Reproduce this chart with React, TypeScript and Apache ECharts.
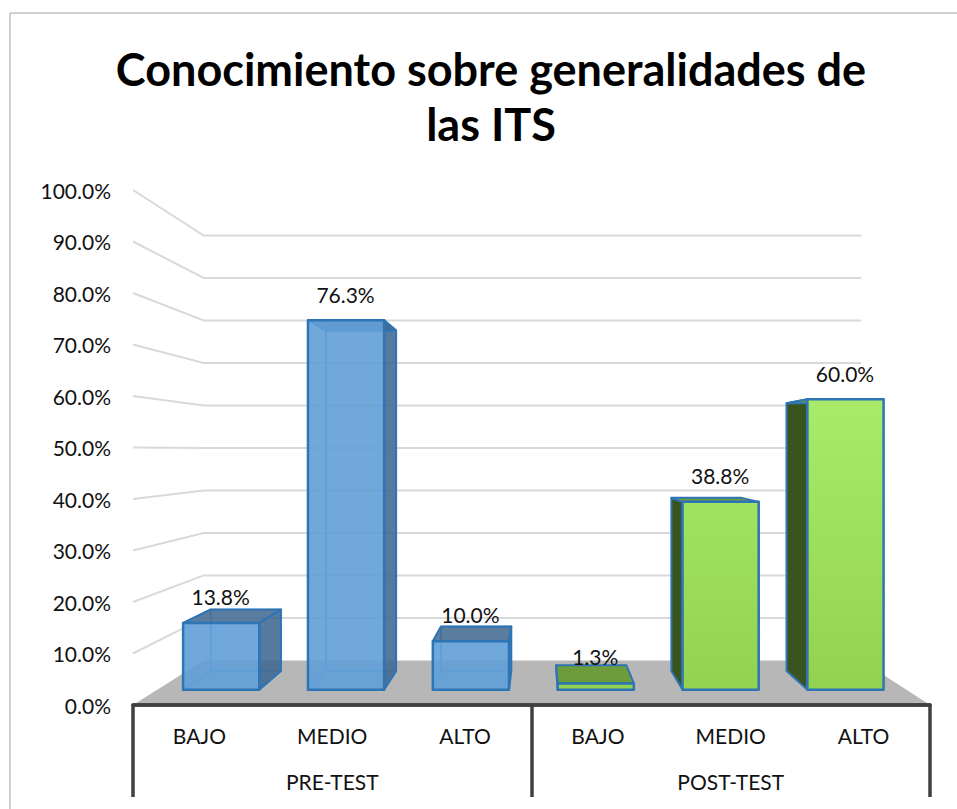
import React, { useEffect, useRef } from "react";
import * as echarts from "echarts";

const titleLines = ["Conocimiento sobre generalidades de", "las ITS"];
const categories = ["BAJO", "MEDIO", "ALTO", "BAJO", "MEDIO", "ALTO"];
const groups = ["PRE-TEST", "POST-TEST"];
const preValues = [13.8, 76.3, 10.0];
const postValues = [1.3, 38.8, 60.0];
const gridTicks = [10, 20, 30, 40, 50, 60, 70, 80, 90, 100];

const FONT = "Lato";
const TEXT = "#111111";
const S_WALL = 0.825;
const S_FRONT = 0.94;
const S_BACK = 0.867;
const BAR_RATIO = 0.61;
const BAR_SHIFT = 1.5;
const BORDER = "#2E75B6";

function projector(sys: any) {
  const vx = sys.x + sys.width * 0.507;
  const vy = sys.y + sys.height * 0.505;
  return (p: number[], s: number) => [vx + (p[0] - vx) * s, vy + (p[1] - vy) * s];
}

function poly(points: number[][], fill: any, stroke: any, lineWidth: number, z2 = 0) {
  return {
    type: "polygon",
    z2,
    shape: { points },
    style: { fill, stroke, lineWidth, lineJoin: "round" },
  };
}

function renderBar(kind: "pre" | "post") {
  return (params: any, api: any) => {
    const proj = projector(params.coordSys);
    const idx = api.value(0);
    const v = api.value(1);
    const top = api.coord([idx, v]);
    const base = api.coord([idx, 0]);
    const half = (api.size([1, 0])[0] * BAR_RATIO) / 2;
    const corners = (y: number, s: number) => {
      const l = proj([top[0] - half, y], s);
      const r = proj([top[0] + half, y], s);
      return [[l[0] + BAR_SHIFT, l[1]], [r[0] + BAR_SHIFT, r[1]]];
    };
    const [fbl, fbr] = corners(base[1], S_FRONT);
    const [ftl, ftr] = corners(top[1], S_FRONT);
    const [bbl, bbr] = corners(base[1], S_BACK);
    const [btl, btr] = corners(top[1], S_BACK);
    const labelX = (ftl[0] + ftr[0]) / 2 - 0.5;
    const labelY = btl[1] - 8 - 0.36 * v;
    const children: any[] = [];
    if (kind === "pre") {
      const inner = "#5B9BD5";
      children.push(poly([bbl, bbr, fbr, fbl], "rgba(97,158,215,0.25)", inner, 1.5));
      children.push(poly([bbl, bbr, btr, btl], "rgba(97,158,215,0.15)", inner, 1.5));
      children.push(poly([bbl, btl, ftl, fbl], "rgba(97,158,215,0.15)", inner, 1.5));
      children.push(poly([fbr, ftr, btr, bbr], "rgba(66,104,145,0.88)", BORDER, 2));
      children.push(poly([ftl, ftr, btr, btl], "rgba(66,104,145,0.85)", BORDER, 2));
      children.push(poly([fbl, fbr, ftr, ftl], "rgba(97,158,215,0.89)", BORDER, 2.5));
    } else {
      const gradient = new echarts.graphic.LinearGradient(
        0, 400, 0, 690,
        [
          { offset: 0, color: "#A9EB68" },
          { offset: 1, color: "#92D24E" },
        ],
        true,
      );
      children.push(poly([fbl, ftl, btl, bbl], "#3A5420", BORDER, 2));
      children.push(poly([ftl, ftr, btr, btl], "#6F9C3B", BORDER, 2));
      children.push(poly([fbl, fbr, ftr, ftl], gradient, BORDER, 2.5));
    }
    children.push({
      type: "text",
      z2: 10,
      style: {
        text: v.toFixed(1) + "%",
        x: labelX,
        y: labelY,
        align: "center",
        verticalAlign: "middle",
        fontSize: 21,
        fontFamily: FONT,
        fill: TEXT,
      },
    });
    return { type: "group", children };
  };
}

const App = () => {
  const ref = useRef<HTMLDivElement>(null);

  useEffect(() => {
    const chart = echarts.init(ref.current!, null, { renderer: "svg" });
    const option: any = {
      animation: false,
      backgroundColor: "#ffffff",
      title: {
        text: titleLines.join("\n"),
        left: 486,
        top: 36,
        textAlign: "center",
        textStyle: {
          fontFamily: FONT,
          fontWeight: "bold",
          fontSize: 45,
          lineHeight: 55,
          color: "#000000",
        },
      },
      graphic: [
        { type: "line", shape: { x1: 10, y1: 13, x2: 957, y2: 13 }, style: { stroke: "#BFBFBF", lineWidth: 1.5 } },
        { type: "line", shape: { x1: 10, y1: 13, x2: 10, y2: 809 }, style: { stroke: "#BFBFBF", lineWidth: 1.5 } },
      ],
      grid: { left: 133, top: 190, width: 797, height: 515 },
      xAxis: [
        {
          type: "category",
          data: categories,
          axisLine: { lineStyle: { color: "#404040", width: 3.5 } },
          axisTick: { show: false },
          axisLabel: { interval: 0, margin: 20, fontSize: 21, fontFamily: FONT, color: TEXT },
          z: 5,
        },
        {
          type: "category",
          position: "bottom",
          data: groups,
          axisLine: { lineStyle: { color: "#404040", width: 3.5 } },
          axisTick: { show: true, length: 92, lineStyle: { color: "#404040", width: 3.5 } },
          axisLabel: { interval: 0, margin: 66, fontSize: 21, fontFamily: FONT, color: TEXT },
          z: 5,
        },
      ],
      yAxis: {
        type: "value",
        min: 0,
        max: 100,
        interval: 10,
        axisLine: { show: false },
        axisTick: { show: false },
        splitLine: { show: false },
        axisLabel: {
          margin: 22,
          fontSize: 21,
          fontFamily: FONT,
          color: TEXT,
          formatter: (v: number) => v.toFixed(1) + "%",
        },
      },
      series: [
        {
          type: "custom",
          name: "floor",
          silent: true,
          clip: false,
          z: 1,
          data: [[0, 0]],
          encode: { x: 0, y: 1 },
          renderItem: (params: any, api: any) => {
            const sys = params.coordSys;
            const proj = projector(sys);
            const y0 = api.coord([0, 0])[1];
            const l = [sys.x, y0];
            const r = [sys.x + sys.width, y0];
            return {
              type: "polygon",
              shape: { points: [l, proj(l, S_WALL), proj(r, S_WALL), r] },
              style: { fill: "#B7B7B7", stroke: "none" },
            };
          },
        },
        {
          type: "custom",
          name: "walls",
          silent: true,
          clip: false,
          z: 2,
          data: gridTicks.map((t) => [0, t]),
          encode: { x: 0, y: 1 },
          renderItem: (params: any, api: any) => {
            const sys = params.coordSys;
            const proj = projector(sys);
            const y = api.coord([0, api.value(1)])[1];
            const l = [sys.x, y];
            const r = [sys.x + sys.width, y];
            return {
              type: "polyline",
              shape: { points: [l, proj(l, S_WALL), proj(r, S_WALL)] },
              style: { fill: "none", stroke: "#D9D9D9", lineWidth: 2 },
            };
          },
        },
        {
          type: "custom",
          name: "PRE-TEST",
          clip: false,
          z: 3,
          data: preValues.map((v, i) => [i, v]),
          encode: { x: 0, y: 1 },
          renderItem: renderBar("pre"),
        },
        {
          type: "custom",
          name: "POST-TEST",
          clip: false,
          z: 3,
          data: postValues.map((v, i) => [i + preValues.length, v]),
          encode: { x: 0, y: 1 },
          renderItem: renderBar("post"),
        },
      ],
    };
    chart.setOption(option);
    return () => chart.dispose();
  }, []);

  return (
    <div
      ref={ref}
      style={{ position: "fixed", left: 0, top: 0, width: 957, height: 809 }}
    />
  );
};

export default App;
